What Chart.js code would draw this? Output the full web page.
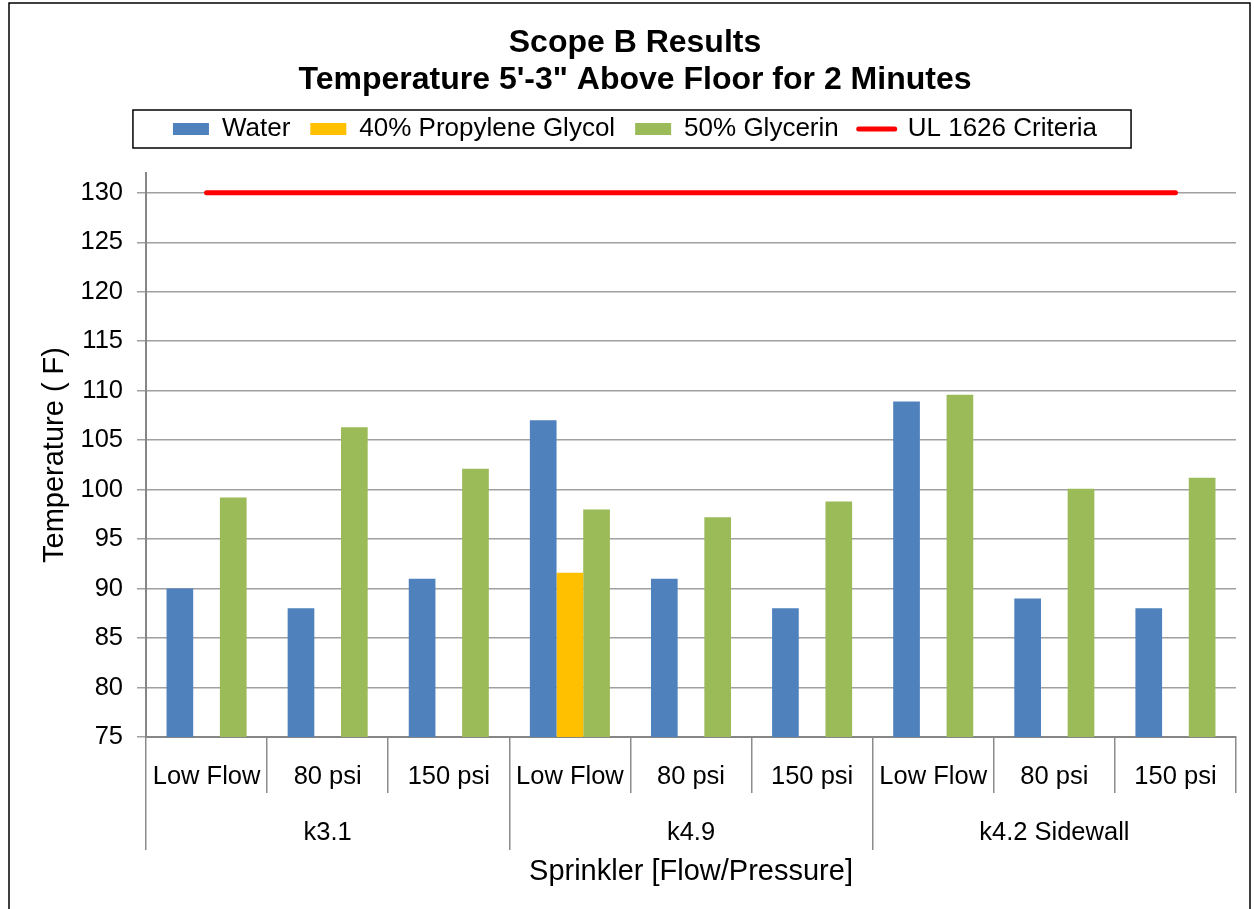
<!DOCTYPE html>
<html>
<head>
<meta charset="utf-8">
<script src="https://cdn.jsdelivr.net/npm/chart.js@4.4.1/dist/chart.umd.min.js"></script>
<style>
html,body{margin:0;padding:0;background:#fff;}
#wrap{width:1254px;height:909px;position:relative;}
</style>
</head>
<body>
<div id="wrap"><canvas id="c" width="1254" height="909"></canvas></div>
<script>
const categories = ['Low Flow', '80 psi', '150 psi', 'Low Flow', '80 psi', '150 psi', 'Low Flow', '80 psi', '150 psi'];
const groups = ['k3.1', 'k4.9', 'k4.2 Sidewall'];
const water = [90.0, 88.0, 91.0, 107.0, 91.0, 88.0, 108.9, 89.0, 88.0];
const propyleneGlycol = [null, null, null, 91.6, null, null, null, null, null];
const glycerin = [99.2, 106.3, 102.1, 98.0, 97.2, 98.8, 109.6, 100.1, 101.2];
const ulCriteria = [130, 130, 130, 130, 130, 130, 130, 130, 130];
const yTicks = [75, 80, 85, 90, 95, 100, 105, 110, 115, 120, 125, 130];

const FONT = "'Liberation Sans', Arial, sans-serif";
const groupLabels = categories.map((c, i) => (i % 3 === 1 ? groups[(i - 1) / 3] : ''));

const framePlugin = {
  id: 'frame',
  beforeLayout(chart) {
    const lg = chart.legend;
    if (lg && !lg._fixedHeight) {
      const origFit = lg.fit;
      lg.fit = function () { origFit.call(this); this.height = 77; };
      lg._fixedHeight = true;
    }
  },
  beforeDraw(chart) {
    const ctx = chart.ctx;
    ctx.save();
    ctx.fillStyle = '#fff';
    ctx.fillRect(0, 0, chart.width, chart.height);
    ctx.restore();
  },
  afterDraw(chart) {
    const ctx = chart.ctx;
    ctx.save();
    ctx.strokeStyle = '#000';
    ctx.lineWidth = 1.5;
    ctx.beginPath();
    ctx.moveTo(9, chart.height + 5);
    ctx.lineTo(9, 3);
    ctx.lineTo(1250, 3);
    ctx.lineTo(1250, chart.height + 5);
    ctx.stroke();
    const boxes = chart.legend.legendHitBoxes;
    if (boxes && boxes.length) {
      const left = Math.min(...boxes.map(b => b.left)) - 40;
      const right = Math.max(...boxes.map(b => b.left + b.width)) + 34;
      const cy = boxes[0].top + boxes[0].height / 2;
      ctx.strokeRect(left, cy - 19, right - left, 38);
    }
    ctx.restore();
  }
};

new Chart(document.getElementById('c'), {
  type: 'bar',
  data: {
    labels: categories,
    datasets: [
      { label: 'Water', data: water, backgroundColor: '#4f81bd', order: 1 },
      { label: '40% Propylene Glycol', data: propyleneGlycol, backgroundColor: '#ffc000', order: 1 },
      { label: '50% Glycerin', data: glycerin, backgroundColor: '#9bbb59', order: 1 },
      { label: 'UL 1626 Criteria', type: 'line', data: ulCriteria, borderColor: '#ff0000', backgroundColor: '#ff0000',
        borderWidth: 5, pointRadius: 0, borderCapStyle: 'round', order: 0 }
    ]
  },
  options: {
    responsive: false,
    animation: false,
    categoryPercentage: 0.661,
    barPercentage: 1.0,
    layout: { padding: { left: 34, right: 18, top: 4, bottom: 0 } },
    plugins: {
      title: {
        display: true,
        text: ['Scope B Results', 'Temperature 5\'-3" Above Floor for 2 Minutes'],
        color: '#000',
        font: { family: FONT, size: 32, weight: 'bold', lineHeight: 1.15 },
        padding: { top: 21, bottom: -2.6 }
      },
      legend: {
        position: 'top',
        labels: {
          usePointStyle: true,
          pointStyleWidth: 36,
          boxHeight: 12,
          padding: 20,
          color: '#000',
          font: { family: FONT, size: 26 },
          generateLabels(chart) {
            return chart.data.datasets.map((ds, i) => ({
              text: ds.label,
              fillStyle: ds.type === 'line' ? ds.borderColor : ds.backgroundColor,
              strokeStyle: ds.type === 'line' ? ds.borderColor : ds.backgroundColor,
              lineWidth: ds.type === 'line' ? 5 : 0,
              lineCap: 'round',
              pointStyle: ds.type === 'line' ? 'line' : 'rect',
              hidden: false,
              fontColor: '#000',
              datasetIndex: i
            }));
          }
        }
      },
      tooltip: { enabled: false }
    },
    scales: {
      x: {
        type: 'category',
        weight: 0,
        grid: { offset: true, drawOnChartArea: false, tickLength: 56, color: '#8c8c8c', lineWidth: 1.5 },
        border: { color: '#868686', width: 2 },
        ticks: { color: '#000', font: { family: FONT, size: 25.5 }, padding: -31, maxRotation: 0, autoSkip: false },
        afterFit(s) { s.height = 56; }
      },
      x2: {
        type: 'category',
        position: 'bottom',
        weight: 1,
        labels: groupLabels,
        grid: {
          offset: true, drawOnChartArea: false, tickLength: 57, lineWidth: 1.5,
          color: ctx => (ctx.index % 3 === 0 ? '#8c8c8c' : 'rgba(0,0,0,0)')
        },
        border: { display: false },
        ticks: { color: '#000', font: { family: FONT, size: 25.5 }, padding: -32, maxRotation: 0, autoSkip: false },
        title: { display: true, text: 'Sprinkler [Flow/Pressure]', color: '#000', font: { family: FONT, size: 29 }, padding: { top: 0, bottom: 19.6 } },
        afterFit(s) { s.height = 116; }
      },
      y: {
        type: 'linear',
        min: 75,
        max: 132,
        afterBuildTicks(s) { s.ticks = yTicks.map(v => ({ value: v })); },
        grid: { color: '#a0a0a0', lineWidth: 1.5, tickLength: 9 },
        border: { color: '#868686', width: 2 },
        ticks: { color: '#000', font: { family: FONT, size: 25.5 }, padding: 14 },
        title: { display: true, text: 'Temperature ( F)', color: '#000', font: { family: FONT, size: 29 }, padding: { top: 3.6, bottom: 0 } },
        afterFit(s) { s.width = 112; }
      }
    }
  },
  plugins: [framePlugin]
});
</script>
</body>
</html>
